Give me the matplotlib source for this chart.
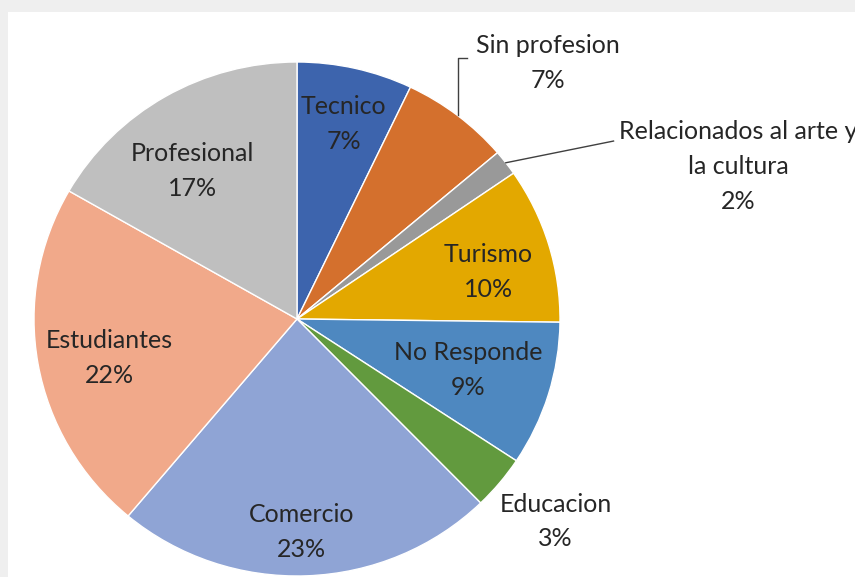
import matplotlib.pyplot as plt
import numpy as np
from matplotlib.patches import Rectangle

# categories and shares (percent), clockwise from 12 o'clock
names = ['Tecnico', 'Sin profesion', 'Relacionados al arte y\nla cultura', 'Turismo',
         'No Responde', 'Educacion', 'Comercio', 'Estudiantes', 'Profesional']
shares = [7.1, 6.7, 1.6, 9.8, 9.1, 3.4, 23.4, 22.2, 16.7]

colors = ['#3d64ad', '#d4702d', '#999999', '#e3a800', '#4e88c0',
          '#629a3e', '#8fa4d5', '#f1a98a', '#bfbfbf']

# label layout: radial distance (pie radius = 1) and angle nudge in degrees
label_r = [0.78, 1.38, 1.78, 0.75, 0.68, 1.26, 0.83, 0.73, 0.70]
label_dt = [0.4, 6.1, 18.0, 2.8, 0.0, -0.9, 1.0, -2.0, -4.5]

W, H = 855, 577
cx, cy, rx, ry = 297, 319, 263, 257   # pie centre / radii in pixels

fig = plt.figure(figsize=(W / 100, H / 100), dpi=100, facecolor='#efefef')
fig.patches.append(Rectangle((8 / W, 0), 1, (H - 12) / H, transform=fig.transFigure,
                             facecolor='white', edgecolor='none', zorder=-10))
ax = fig.add_axes([0, 0, 1, 1])
ax.patch.set_alpha(0)

ax.pie(shares, colors=colors, startangle=90, counterclock=False, radius=1,
       center=(0, 0), wedgeprops=dict(edgecolor='white', linewidth=1))
ax.set_aspect('auto')
ax.set_xlim(-cx / rx, (W - cx) / rx)
ax.set_ylim(-(H - cy) / ry, cy / ry)
ax.axis('off')

tot = sum(shares)
cum = np.cumsum([0] + shares)[:-1]
txt_kw = dict(ha='center', va='center', fontsize=18, family='Lato',
              color='#262626', linespacing=1.62)

for i, (n, s) in enumerate(zip(names, shares)):
    mid = (cum[i] + s / 2) / tot * 360          # clockwise from top
    a = np.radians(mid + label_dt[i])
    lx, ly = label_r[i] * np.sin(a), label_r[i] * np.cos(a)
    ax.text(lx, ly, '%s\n%.0f%%' % (n, s / tot * 100), **txt_kw)

    # leader lines for the two outside labels that have them
    am = np.radians(mid)
    ex, ey = np.sin(am), np.cos(am)
    if n == 'Sin profesion':
        ax.plot([ex, ex, ex + 0.035], [ey, ly + 0.02, ly + 0.02], color='#404040', lw=1)
    elif n.startswith('Relacionados'):
        ax.plot([ex, lx - 0.475], [ey, ly + 0.10], color='#404040', lw=1)

fig.savefig('out.png', dpi=100, facecolor=fig.get_facecolor())
